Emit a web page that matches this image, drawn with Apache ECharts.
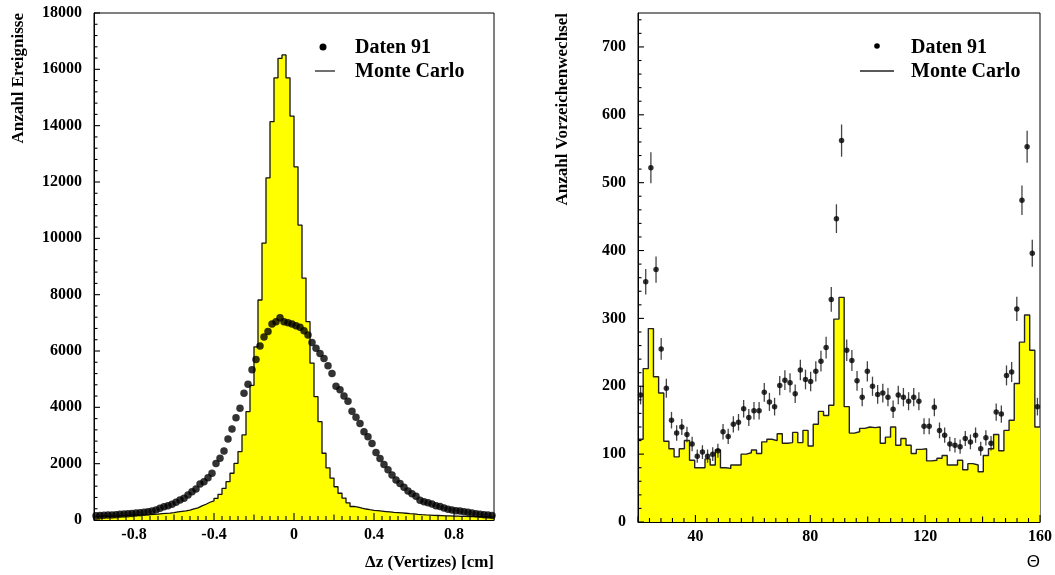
<!DOCTYPE html>
<html><head><meta charset="utf-8">
<script src="https://cdn.jsdelivr.net/npm/echarts@6/dist/echarts.min.js"></script>
<style>html,body{margin:0;padding:0;background:#fff}#c{width:1055px;height:575px}</style>
</head><body><div id="c"></div>
<script>
// ---------- data: left panel (Δz, 100 bins from -1 to 1) ----------
const dzRange = [-1, 1];
const dzMonteCarlo = [
  125,130,135,140,140,145,150,160,165,170,
  175,180,185,190,200,210,225,235,245,260,
  285,305,325,350,395,430,500,560,630,680,
  770,910,1120,1360,1660,2010,2430,3020,3850,4780,
  6150,7810,9830,12150,14140,15700,16390,16510,15700,14340,
  12540,10470,8590,7040,5570,4380,3490,2370,1850,1490,
  1180,950,780,610,480,460,420,390,365,345,
  330,315,300,285,270,260,250,240,225,215,
  200,190,182,175,165,160,155,150,148,140,
  135,130,128,125,120,118,115,112,110,105
];
const dzDaten91 = [
  150,160,165,175,180,190,200,210,220,235,
  245,260,275,295,320,355,415,470,510,560,
  630,710,770,890,1000,1100,1280,1360,1500,1660,
  2010,2190,2450,2880,3230,3630,3970,4500,4820,5330,
  5700,6180,6500,6690,6960,7040,7180,7040,7000,6960,
  6900,6840,6720,6570,6300,6095,5915,5730,5480,5205,
  4750,4620,4400,4220,3860,3650,3430,3130,2960,2720,
  2400,2180,1970,1780,1600,1420,1300,1160,1030,930,
  840,700,650,615,570,510,475,425,385,355,
  330,320,295,275,245,225,205,190,175,160
];
const dzTickLabels = [-0.8, -0.4, 0, 0.4, 0.8];
const dzCountTicks = [0, 2000, 4000, 6000, 8000, 10000, 12000, 14000, 16000, 18000];

// ---------- data: right panel (Θ, 78 bins from 20 to 160) ----------
const thetaRange = [20, 160];
const thetaMonteCarlo = [
  122,226,285,214,190,119,108,96,108,120,
  91,80,80,93,84,106,80,79,84,84,
  100,102,106,101,118,122,120,130,116,117,
  132,117,135,112,144,163,157,172,299,331,
  170,131,133,138,140,139,140,116,125,140,
  113,123,113,101,107,108,90,91,94,98,
  84,84,91,77,86,84,74,98,108,129,
  105,135,150,204,265,305,253,140
];
const thetaDaten91 = [
  187,354,522,372,255,197,150,131,140,129,
  115,97,103,97,100,105,133,126,144,147,
  167,154,164,164,191,177,170,201,209,205,
  189,224,210,207,222,237,257,328,447,562,
  253,238,208,184,222,200,188,190,184,166,
  187,184,178,184,178,141,141,169,135,128,
  115,113,111,123,118,128,108,124,116,162,
  159,216,221,314,474,553,396,170
];
const thetaTickLabels = [40, 80, 120, 160];
const signChangeTicks = [0, 100, 200, 300, 400, 500, 600, 700];

// ---------- helpers ----------
function stepPoints(range, vals) {
  const w = (range[1] - range[0]) / vals.length;
  const pts = vals.map((v, i) => [range[0] + i * w, v]);
  pts.push([range[1], vals[vals.length - 1]]);
  return pts;
}
function centerPoints(range, vals) {
  const w = (range[1] - range[0]) / vals.length;
  return vals.map((v, i) => [range[0] + (i + 0.5) * w, v]);
}
function inList(list, v, tol) { return list.some(t => Math.abs(t - v) < tol); }
function fmtNum(v) { const r = Math.round(v * 10) / 10; return String(r === 0 ? 0 : r); }
function isMult(v, step) { const q = v / step; return Math.abs(q - Math.round(q)) < 1e-6; }
// tick marks along an axis: [x, y, length, direction(0 = up from x axis, 1 = right from y axis)]
function xTickMarks(range, yMin, minorStep, midStep, majorStep) {
  const out = [], n = Math.round((range[1] - range[0]) / minorStep);
  for (let i = 0; i <= n; i++) {
    const v = range[0] + i * minorStep;
    const len = isMult(v, majorStep) ? 7 : (isMult(v, midStep) ? 5.5 : 4);
    out.push([v, yMin, len, 0]);
  }
  return out;
}
function yTickMarks(max, xMin, minorStep, majorStep) {
  const out = [], n = Math.floor(max / minorStep + 1e-9);
  for (let i = 0; i <= n; i++) {
    const v = i * minorStep;
    out.push([xMin, v, isMult(v, majorStep) ? 6 : 3.5, 1]);
  }
  return out;
}
function tickRender(params, api) {
  const p = api.coord([api.value(0), api.value(1)]);
  const len = api.value(2), dir = api.value(3);
  const x2 = dir === 0 ? p[0] : p[0] + len;
  const y2 = dir === 0 ? p[1] - len : p[1];
  return { type: 'line', shape: { x1: p[0], y1: p[1], x2: x2, y2: y2 }, style: { stroke: '#000', lineWidth: 1.1 } };
}

const serif = "'Liberation Serif', 'Times New Roman', serif";
const labelStyle = { fontFamily: serif, fontWeight: 'bold', fontSize: 16, color: '#000' };

function xAxisCfg(grid, range, interval, labels, name, nameStyle) {
  return {
    type: 'value', gridIndex: grid, min: range[0], max: range[1], interval: interval, z: 10,
    axisLine: { show: true, onZero: false, lineStyle: { color: '#000' } },
    axisTick: { show: false },
    splitLine: { show: false },
    axisLabel: Object.assign({ margin: 7, formatter: v => inList(labels, v, 1e-6) ? fmtNum(v) : '' }, labelStyle),
    name: name, nameLocation: 'end', nameGap: 0, nameTextStyle: nameStyle
  };
}
function yAxisCfg(grid, max, interval, labels, name) {
  return {
    type: 'value', gridIndex: grid, min: 0, max: max, interval: interval, z: 10,
    axisLine: { show: true, onZero: false, lineStyle: { color: '#000' } },
    axisTick: { show: false },
    splitLine: { show: false },
    axisLabel: Object.assign({ margin: 12, formatter: v => inList(labels, v, 1e-6) ? String(v) : '' }, labelStyle),
    name: name, nameLocation: 'end', nameGap: 0, nameRotate: 90,
    nameTextStyle: { fontFamily: serif, fontWeight: 'bold', fontSize: 17, color: '#000', align: 'right', verticalAlign: 'bottom', padding: [0, 0, 67, 0] }
  };
}
function tickSeries(xi, data) {
  return { type: 'custom', name: 'ticks', xAxisIndex: xi, yAxisIndex: xi, z: 20, clip: false, silent: true,
    data: data, encode: { x: 0, y: 1 }, renderItem: tickRender };
}

const chart = echarts.init(document.getElementById('c'), null, { renderer: 'canvas' });
chart.setOption({
  animation: false,
  grid: [
    { left: 94, top: 13, width: 400, height: 507, show: true, borderColor: '#000', borderWidth: 1 },
    { left: 638, top: 13, width: 402, height: 509, show: true, borderColor: '#000', borderWidth: 1 }
  ],
  xAxis: [
    xAxisCfg(0, dzRange, 0.2, dzTickLabels, 'Δz (Vertizes) [cm]',
      { fontFamily: serif, fontWeight: 'bold', fontSize: 17, color: '#000', align: 'right', verticalAlign: 'top', padding: [34, 0, 0, 0] }),
    xAxisCfg(1, thetaRange, 20, thetaTickLabels, 'Θ',
      { fontFamily: "'Liberation Sans', 'DejaVu Sans', sans-serif", fontSize: 17, color: '#000', align: 'right', verticalAlign: 'top', padding: [32, 0, 0, 0] })
  ],
  yAxis: [
    yAxisCfg(0, 18000, 2000, dzCountTicks, 'Anzahl Ereignisse'),
    yAxisCfg(1, 750, 100, signChangeTicks, 'Anzahl Vorzeichenwechsel')
  ],
  series: [
    {
      name: 'Monte Carlo', type: 'line', xAxisIndex: 0, yAxisIndex: 0, step: 'end',
      data: stepPoints(dzRange, dzMonteCarlo), symbol: 'none',
      lineStyle: { color: '#111', width: 1.3 },
      areaStyle: { color: '#ffff00', opacity: 1 }
    },
    {
      name: 'Daten 91', type: 'scatter', xAxisIndex: 0, yAxisIndex: 0,
      data: centerPoints(dzRange, dzDaten91), symbol: 'circle', symbolSize: 7.5, z: 3,
      itemStyle: { color: '#000' }
    },
    {
      name: 'Monte Carlo', type: 'line', xAxisIndex: 1, yAxisIndex: 1, step: 'end',
      data: stepPoints(thetaRange, thetaMonteCarlo), symbol: 'none',
      lineStyle: { color: '#222', width: 1.4 },
      areaStyle: { color: '#ffff00', opacity: 1 }
    },
    {
      name: 'Daten 91 Fehler', type: 'custom', xAxisIndex: 1, yAxisIndex: 1, z: 3,
      data: centerPoints(thetaRange, thetaDaten91).map(p => [p[0], p[1], Math.sqrt(p[1])]),
      encode: { x: 0, y: 1 },
      renderItem: function (params, api) {
        const x = api.value(0), y = api.value(1), e = api.value(2);
        const a = api.coord([x, y - e]), b = api.coord([x, y + e]);
        return { type: 'line', shape: { x1: a[0], y1: a[1], x2: b[0], y2: b[1] }, style: { stroke: '#444', lineWidth: 1.3 } };
      }
    },
    {
      name: 'Daten 91', type: 'scatter', xAxisIndex: 1, yAxisIndex: 1,
      data: centerPoints(thetaRange, thetaDaten91), symbol: 'circle', symbolSize: 5.5, z: 4,
      itemStyle: { color: '#000' }
    },
    tickSeries(0, xTickMarks(dzRange, 0, 0.04, 0.2, 0.4).concat(yTickMarks(18000, dzRange[0], 400, 2000))),
    tickSeries(1, xTickMarks(thetaRange, 0, 4, 20, 40).concat(yTickMarks(750, thetaRange[0], 20, 100)))
  ],
  graphic: [
    { type: 'circle', shape: { cx: 323, cy: 47, r: 3.5 }, style: { fill: '#000' }, z: 10 },
    { type: 'line', shape: { x1: 315, y1: 71, x2: 335, y2: 71 }, style: { stroke: '#222', lineWidth: 1.3 }, z: 10 },
    { type: 'text', x: 355, y: 48, style: { text: 'Daten 91', font: 'bold 20px ' + serif, fill: '#000', align: 'left', verticalAlign: 'middle' }, z: 10 },
    { type: 'text', x: 355, y: 72, style: { text: 'Monte Carlo', font: 'bold 20px ' + serif, fill: '#000', align: 'left', verticalAlign: 'middle' }, z: 10 },
    { type: 'circle', shape: { cx: 877, cy: 46, r: 2.8 }, style: { fill: '#000' }, z: 10 },
    { type: 'line', shape: { x1: 860, y1: 71, x2: 894, y2: 71 }, style: { stroke: '#222', lineWidth: 1.3 }, z: 10 },
    { type: 'text', x: 911, y: 48, style: { text: 'Daten 91', font: 'bold 20px ' + serif, fill: '#000', align: 'left', verticalAlign: 'middle' }, z: 10 },
    { type: 'text', x: 911, y: 72, style: { text: 'Monte Carlo', font: 'bold 20px ' + serif, fill: '#000', align: 'left', verticalAlign: 'middle' }, z: 10 }
  ]
});
</script>
</body></html>
